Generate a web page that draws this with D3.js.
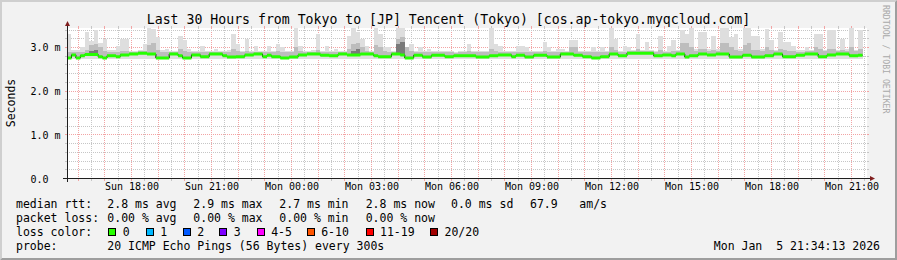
<!DOCTYPE html>
<html>
<head>
<meta charset="utf-8">
<script src="https://cdn.jsdelivr.net/npm/d3@7"></script>
<style>
  body { margin: 0; background: #f2f2f2; }
  text { font-family: "DejaVu Sans Mono", monospace; white-space: pre; }
</style>
</head>
<body>
<svg id="chart" width="897" height="260"></svg>
<script>
const startTime = new Date(2026, 0, 4, 15, 36);
const endTime = new Date(2026, 0, 5, 21, 36);
const stepMinutes = 10;

// median rtt per 10 min step (ms)
const median = [
  2.76, 2.83, 2.76, 2.81, 2.84, 2.84, 2.84, 2.79, 2.76, 2.81,
  2.81, 2.79, 2.83, 2.83, 2.85, 2.85, 2.87, 2.87, 2.85, 2.85,
  2.76, 2.76, 2.76, 2.85, 2.85, 2.81, 2.76, 2.76, 2.83, 2.83,
  2.79, 2.79, 2.85, 2.85, 2.85, 2.81, 2.78, 2.78, 2.79, 2.79,
  2.83, 2.83, 2.85, 2.85, 2.79, 2.82, 2.79, 2.79, 2.76, 2.76,
  2.78, 2.78, 2.83, 2.83, 2.85, 2.85, 2.85, 2.82, 2.82, 2.81,
  2.81, 2.85, 2.85, 2.83, 2.83, 2.83, 2.85, 2.85, 2.85, 2.81,
  2.79, 2.79, 2.79, 2.85, 2.85, 2.83, 2.76, 2.76, 2.82, 2.82,
  2.78, 2.78, 2.82, 2.82, 2.82, 2.79, 2.79, 2.81, 2.81, 2.81,
  2.81, 2.81, 2.78, 2.78, 2.78, 2.81, 2.81, 2.83, 2.83, 2.83,
  2.79, 2.82, 2.82, 2.78, 2.78, 2.82, 2.82, 2.82, 2.78, 2.78,
  2.78, 2.85, 2.85, 2.85, 2.82, 2.82, 2.79, 2.79, 2.76, 2.76,
  2.79, 2.79, 2.85, 2.85, 2.81, 2.81, 2.87, 2.87, 2.87, 2.87,
  2.87, 2.87, 2.81, 2.81, 2.83, 2.83, 2.81, 2.85, 2.85, 2.78,
  2.81, 2.81, 2.85, 2.85, 2.83, 2.83, 2.85, 2.85, 2.85, 2.78,
  2.78, 2.78, 2.82, 2.82, 2.78, 2.78, 2.78, 2.81, 2.81, 2.85,
  2.85, 2.79, 2.79, 2.79, 2.82, 2.82, 2.85, 2.85, 2.85, 2.79,
  2.79, 2.83, 2.83, 2.85, 2.85, 2.85, 2.81, 2.81, 2.82
];

// highest ping of each step (light smoke top)
const smokeMax = [
  3.31, 2.95, 2.95, 3.00, 3.35, 3.15, 3.39, 3.10, 3.20, 2.95,
  2.94, 3.04, 3.20, 3.20, 2.93, 2.92, 2.94, 3.08, 3.46, 3.42,
  3.25, 2.95, 2.97, 2.92, 2.93, 3.27, 3.16, 2.97, 2.92, 2.93,
  3.04, 2.92, 2.93, 2.97, 2.93, 2.92, 2.94, 3.31, 3.08, 2.93,
  3.20, 2.93, 3.04, 2.92, 2.93, 3.04, 2.92, 3.08, 3.00, 2.92,
  2.93, 3.46, 3.04, 2.93, 2.92, 2.94, 3.31, 2.93, 3.04, 2.92,
  2.97, 2.93, 2.92, 3.27, 3.46, 3.35, 3.20, 3.04, 2.93, 3.46,
  3.30, 3.00, 3.00, 2.93, 3.46, 3.46, 2.95, 3.08, 2.92, 3.00,
  2.93, 2.97, 2.92, 2.93, 2.93, 2.92, 2.92, 2.90, 2.92, 2.93,
  3.08, 2.93, 2.92, 2.92, 2.93, 3.46, 3.08, 3.04, 2.93, 2.92,
  2.93, 3.04, 3.04, 3.00, 2.92, 2.93, 2.92, 3.12, 3.00, 2.92,
  2.97, 2.97, 2.93, 3.18, 3.18, 2.93, 2.93, 2.92, 3.00, 2.92,
  3.00, 2.93, 3.46, 3.20, 2.93, 3.04, 3.00, 2.94, 3.31, 2.95,
  3.12, 2.94, 2.93, 3.27, 2.93, 3.04, 3.16, 2.95, 3.40, 3.31,
  3.46, 2.97, 3.35, 3.35, 2.97, 3.27, 2.97, 3.46, 3.46, 3.23,
  3.31, 2.97, 3.50, 3.50, 3.27, 3.27, 2.97, 3.42, 3.16, 2.95,
  3.35, 3.12, 3.12, 3.04, 2.95, 2.94, 3.00, 2.94, 3.31, 3.31,
  2.95, 3.39, 3.39, 2.95, 3.20, 2.97, 3.46, 2.95, 3.39
];

// upper edge of the denser smoke
const smokeMid = [
  2.90, 2.90, 2.90, 2.90, 2.95, 3.05, 3.08, 3.00, 2.92, 2.90,
  2.90, 2.90, 2.92, 2.92, 2.90, 2.90, 2.92, 2.92, 3.05, 3.10,
  2.95, 2.90, 2.90, 2.90, 2.90, 2.97, 2.92, 2.90, 2.90, 2.90,
  2.90, 2.90, 2.90, 2.90, 2.90, 2.90, 2.90, 2.97, 2.92, 2.90,
  2.92, 2.90, 2.90, 2.90, 2.90, 2.90, 2.90, 2.92, 2.90, 2.90,
  2.90, 3.00, 2.92, 2.90, 2.90, 2.90, 2.95, 2.90, 2.90, 2.90,
  2.90, 2.90, 2.90, 2.97, 3.08, 3.10, 3.00, 2.92, 2.90, 3.05,
  3.00, 2.92, 2.90, 2.90, 3.20, 3.25, 3.00, 2.92, 2.90, 2.90,
  2.90, 2.90, 2.90, 2.90, 2.90, 2.90, 2.90, 2.88, 2.90, 2.90,
  2.92, 2.90, 2.90, 2.90, 2.90, 2.97, 2.92, 2.90, 2.90, 2.90,
  2.90, 2.90, 2.90, 2.90, 2.90, 2.90, 2.90, 2.92, 2.90, 2.90,
  2.90, 2.90, 2.90, 3.00, 3.00, 2.90, 2.90, 2.90, 2.90, 2.90,
  2.90, 2.90, 3.00, 2.95, 2.90, 2.90, 2.92, 2.92, 2.97, 2.92,
  2.92, 2.92, 2.90, 2.95, 2.90, 2.90, 2.92, 2.92, 3.10, 3.10,
  3.00, 2.92, 2.97, 2.97, 2.92, 2.95, 2.92, 3.10, 3.10, 3.00,
  2.95, 2.92, 3.05, 3.10, 2.95, 2.95, 2.92, 3.00, 2.95, 2.92,
  2.97, 2.95, 2.92, 2.92, 2.90, 2.90, 2.92, 2.92, 3.00, 2.97,
  2.92, 2.97, 2.97, 2.92, 2.95, 2.92, 3.00, 2.92, 2.97
];
const smokeFloor = 2.73;

// darkest smoke clusters: step index and top value
const darkAt = [5, 6, 64, 65, 74, 75];
const darkTop = [2.92, 2.95, 2.93, 2.96, 3.08, 3.12];

const yMajor = [0, 1, 2, 3];
const yMinorStep = 0.2;

const title = "Last 30 Hours from Tokyo to [JP] Tencent (Tokyo) [cos.ap-tokyo.myqcloud.com]";
const rttStats = ["2.8 ms avg", "2.9 ms max", "2.7 ms min", "2.8 ms now", "0.0 ms sd", "67.9", "am/s"];
const lossStats = ["0.00 % avg", "0.00 % max", "0.00 % min", "0.00 % now"];
const lossLabels = ["0", "1", "2", "3", "4-5", "6-10", "11-19", "20/20"];
const lossColors = ["#26ff00", "#00b8ff", "#0059ff", "#7e00ff", "#ff00ff", "#ff5500", "#ff0000", "#a10000"];
const probeText = "20 ICMP Echo Pings (56 Bytes) every 300s";
const stampText = "Mon Jan  5 21:34:13 2026";

const W = 897, H = 260;
const X0 = 67, X1 = 867, Y0 = 178, Y1 = 28;
const gridCol = "#c6c6c6", mgridCol = "#f2a4a4";

const svg = d3.select("#chart");

// background and bevel
svg.append("rect").attr("width", W).attr("height", H).attr("fill", "#f2f2f2");
svg.append("polygon")
  .attr("points", `0,${H} 2,${H - 2} 2,2 ${W - 2},2 ${W},0 0,0`)
  .attr("fill", "#cfcfcf");
svg.append("polygon")
  .attr("points", `2,${H - 2} ${W - 2},${H - 2} ${W - 2},2 ${W},0 ${W},${H} 0,${H}`)
  .attr("fill", "#9e9e9e");

const x = d3.scaleTime().domain([startTime, endTime]).range([X0 + 0.5, X1 + 0.5]);
const y = d3.scaleLinear().domain([0, 3.446]).range([Y0 + 0.5, Y1]);

svg.append("rect")
  .attr("x", X0).attr("y", Y1).attr("width", X1 - X0).attr("height", Y0 - Y1)
  .attr("fill", "#fff");

const stepTime = (i) => d3.timeMinute.offset(startTime, i * stepMinutes);

svg.append("clipPath").attr("id", "plotclip")
  .append("rect").attr("x", X0).attr("y", Y1).attr("width", X1 - X0).attr("height", Y0 - Y1);

// grid
const grid = svg.append("g");
const halfHours = d3.timeMinute.every(30).range(startTime, endTime);
halfHours.forEach((t) => {
  const major = t.getMinutes() === 0;
  const gx = Math.round(x(t) - 0.5) + 0.5;
  const col = major ? mgridCol : gridCol;
  grid.append("line")
    .attr("x1", gx).attr("x2", gx).attr("y1", Y1).attr("y2", Y0)
    .attr("stroke", col).attr("stroke-dasharray", "1,1");
  grid.append("line")
    .attr("x1", gx).attr("x2", gx).attr("y1", Y0).attr("y2", Y0 + 3)
    .attr("stroke", col);
  grid.append("line")
    .attr("x1", gx).attr("x2", gx).attr("y1", Y1 - 2).attr("y2", Y1)
    .attr("stroke", col);
});

const yMinor = d3.range(yMinorStep, 3.44, yMinorStep)
  .filter((v) => Math.abs(v - Math.round(v)) > 0.01);
const hLine = (v, col) => {
  const gy = Math.round(y(v) - 0.5) + 0.5;
  grid.append("line")
    .attr("x1", X0).attr("x2", X1).attr("y1", gy).attr("y2", gy)
    .attr("stroke", col).attr("stroke-dasharray", "1,1");
  grid.append("line")
    .attr("x1", X0 - 2).attr("x2", X0).attr("y1", gy).attr("y2", gy)
    .attr("stroke", col);
  grid.append("line")
    .attr("x1", X1).attr("x2", X1 + 2).attr("y1", gy).attr("y2", gy)
    .attr("stroke", col);
};
yMinor.forEach((v) => hLine(v, gridCol));
yMajor.forEach((v) => hLine(v, mgridCol));

// smoke
const plot = svg.append("g").attr("clip-path", "url(#plotclip)");
const barX = (i) => x(stepTime(i)) - 0.5;
const barW = (i) => x(stepTime(i + 1)) - x(stepTime(i));

plot.selectAll(".smokeLight").data(smokeMax).join("rect")
  .attr("x", (d, i) => barX(i)).attr("width", (d, i) => barW(i))
  .attr("y", (d) => y(d)).attr("height", (d) => y(smokeFloor) - y(d))
  .attr("fill", "#dedede").attr("shape-rendering", "crispEdges");

plot.selectAll(".smokeMid").data(smokeMid).join("rect")
  .attr("x", (d, i) => barX(i)).attr("width", (d, i) => barW(i))
  .attr("y", (d) => y(d)).attr("height", (d, i) => Math.max(0, y(median[i]) - y(d)))
  .attr("fill", "#bdbdbd").attr("shape-rendering", "crispEdges");

plot.selectAll(".smokeDark").data(darkAt).join("rect")
  .attr("x", (d) => barX(d)).attr("width", (d) => barW(d))
  .attr("y", (d, k) => y(darkTop[k])).attr("height", (d, k) => Math.max(0, y(median[d]) - y(darkTop[k])))
  .attr("fill", "#7a7a7a").attr("shape-rendering", "crispEdges");

// median line with loss colour band
const medPts = median.map((v, i) => [stepTime(i), v]);
medPts.push([stepTime(median.length), median[median.length - 1]]);

plot.append("path")
  .attr("d", d3.line().x((d) => x(d[0]) - 0.5).y((d) => y(d[1])).curve(d3.curveStepAfter)(medPts))
  .attr("fill", "none").attr("stroke", "#000").attr("stroke-width", 1);

plot.append("path")
  .attr("d", d3.area().x((d) => x(d[0]) - 0.5)
    .y0((d) => y(d[1]) + 1.5).y1((d) => y(d[1]) - 1.5)
    .curve(d3.curveStepAfter)(medPts))
  .attr("fill", lossColors[0]);

// axes
const axisCol = "#1f1f1f", arrowCol = "#801f1f";
svg.append("line").attr("x1", X0 - 4).attr("x2", X1 + 4)
  .attr("y1", Y0 + 0.5).attr("y2", Y0 + 0.5).attr("stroke", axisCol);
svg.append("line").attr("x1", X0 + 0.5).attr("x2", X0 + 0.5)
  .attr("y1", Y0 + 4).attr("y2", Y1 - 3).attr("stroke", axisCol);
svg.append("polygon")
  .attr("points", `${X1 + 3},${Y0 - 2} ${X1 + 8},${Y0 + 0.5} ${X1 + 3},${Y0 + 3}`)
  .attr("fill", arrowCol);
svg.append("polygon")
  .attr("points", `${X0 - 2},${Y1 - 2} ${X0 + 0.5},${Y1 - 7} ${X0 + 3},${Y1 - 2}`)
  .attr("fill", arrowCol);

// x labels
const xAxis = d3.axisBottom(x)
  .tickValues(d3.timeHour.every(3).range(startTime, endTime))
  .tickFormat(d3.timeFormat("%a %H:%M"))
  .tickSize(0).tickPadding(0);
const xg = svg.append("g").attr("transform", `translate(0,${Y0 + 4})`).call(xAxis);
xg.select(".domain").remove();
xg.selectAll("text")
  .attr("y", 0).attr("dy", "0.82em")
  .attr("font-family", "DejaVu Sans Mono").attr("font-size", 10).attr("fill", "#000");

// y labels
const yAxis = d3.axisLeft(y).tickValues(yMajor)
  .tickFormat((v) => (v === 0 ? "0.0" : d3.format(".1f")(v) + " m"))
  .tickSize(0).tickPadding(0);
const yg = svg.append("g").attr("transform", "translate(30.5,0)").call(yAxis);
yg.select(".domain").remove();
yg.selectAll("text")
  .attr("text-anchor", "start").attr("x", 0).attr("dy", "0.35em")
  .attr("font-family", "DejaVu Sans Mono").attr("font-size", 10).attr("fill", "#000");

// titles
svg.append("text").attr("x", W / 2).attr("y", 19).attr("dy", "0.35em")
  .attr("text-anchor", "middle").attr("font-size", 13.2).text(title);
svg.append("text")
  .attr("transform", `translate(11,${(Y0 + Y1) / 2}) rotate(-90)`)
  .attr("text-anchor", "middle").attr("dy", "0.35em")
  .attr("font-size", 11.5).text("Seconds");
svg.append("text")
  .attr("transform", "translate(886,5) rotate(90)")
  .attr("dy", "0.35em").attr("font-size", 8.2).attr("fill", "#a9a9a9")
  .text("RRDTOOL / TOBI OETIKER");

// legend
const legend = svg.append("g").attr("font-size", 11.5);
const row = [204.3, 218.3, 232.3, 246.3];
const col = [107.3, 193.3, 279.3, 365.7, 451, 530, 579.3];
const lt = (tx, ty, s) => legend.append("text").attr("x", tx).attr("y", ty).attr("dy", "0.35em").text(s);

lt(16, row[0], "median rtt:");
rttStats.forEach((s, i) => lt(col[i], row[0], s));
lt(16, row[1], "packet loss:");
lossStats.forEach((s, i) => lt(col[i], row[1], s));
lt(16, row[2], "loss color:");
const boxX = [108.3, 145.7, 182.7, 219.3, 256.7, 306.7, 365.5, 430];
lossLabels.forEach((s, i) => {
  legend.append("rect")
    .attr("x", Math.round(boxX[i]) + 0.5).attr("y", Math.round(row[2] - 4) + 0.5)
    .attr("width", 7).attr("height", 7)
    .attr("fill", lossColors[i]).attr("stroke", "#000");
  lt(boxX[i] + 14.5, row[2], s);
});
lt(16, row[3], "probe:");
lt(col[0], row[3], probeText);
legend.append("text").attr("x", 880).attr("y", row[3]).attr("dy", "0.35em")
  .attr("text-anchor", "end").text(stampText);
</script>
</body>
</html>
